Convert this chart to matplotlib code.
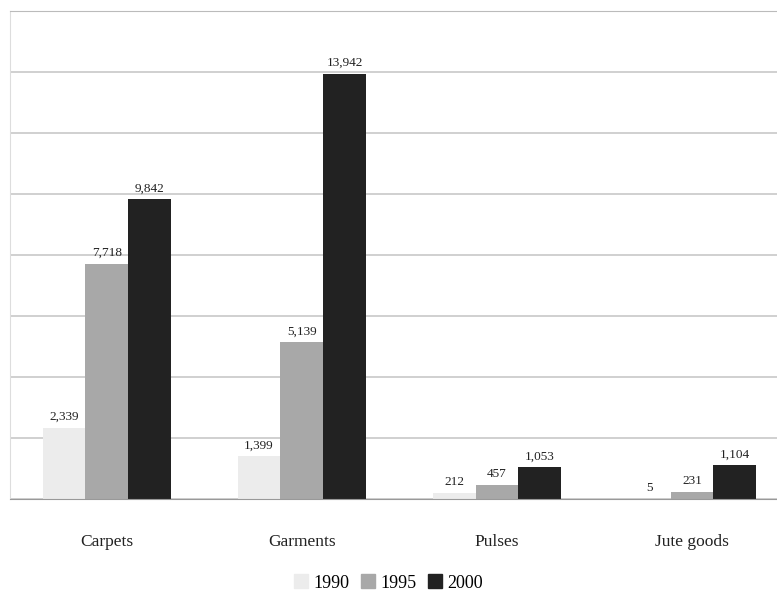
import matplotlib.pyplot as plt
import numpy as np
from matplotlib.patches import Patch

categories = ["Carpets", "Garments", "Pulses", "Jute goods"]
years = ["1990", "1995", "2000"]
values_1990 = [2339, 1399, 212, 5]
values_1995 = [7718, 5139, 457, 231]
values_2000 = [9842, 13942, 1053, 1104]
labels_1990 = ["2,339", "1,399", "212", "5"]
labels_1995 = ["7,718", "5,139", "457", "231"]
labels_2000 = ["9,842", "13,942", "1,053", "1,104"]

colors = ["#ececec", "#a8a8a8", "#222222"]
serif = ["Liberation Serif", "DejaVu Serif"]

fig = plt.figure(figsize=(7.77, 6.11), dpi=100)
ax = fig.add_axes([10 / 777, 1 - 499 / 611, 767 / 777, 488 / 611])

x = np.arange(len(categories))
w = 0.22
series = [values_1990, values_1995, values_2000]
labels = [labels_1990, labels_1995, labels_2000]
for k in range(3):
    bars = ax.bar(x + (k - 1) * w, series[k], w, color=colors[k], zorder=2)
    for b, lab in zip(bars, labels[k]):
        ax.text(b.get_x() + b.get_width() / 2, b.get_height() + 150, lab,
                ha="center", va="bottom", fontsize=9.5, family=serif, color="#222222")

ax.set_xlim(-0.497, 3.436)
ax.set_ylim(0, 16000)
ax.set_yticks(np.arange(0, 16001, 2000))
ax.yaxis.grid(True, color="#c8c8c8", lw=1.2, zorder=0)
ax.tick_params(left=False, bottom=False, labelleft=False)
ax.set_xticks(x)
ax.set_xticklabels(categories, family=serif, fontsize=12.5, color="#222222")
ax.tick_params(axis="x", pad=22)
ax.spines["right"].set_visible(False)
ax.spines["left"].set_color("#dddddd")
ax.spines["top"].set_color("#bbbbbb")
ax.spines["bottom"].set_color("#999999")

handles = [Patch(color=c) for c in colors]
fig.legend(handles, years, loc="center", bbox_to_anchor=(0.5, 1 - 583 / 611), ncol=3,
           frameon=False, handlelength=0.8, handleheight=0.8, handletextpad=0.3,
           columnspacing=0.6, prop={"family": serif, "size": 13})

fig.savefig("out.png", dpi=100)
